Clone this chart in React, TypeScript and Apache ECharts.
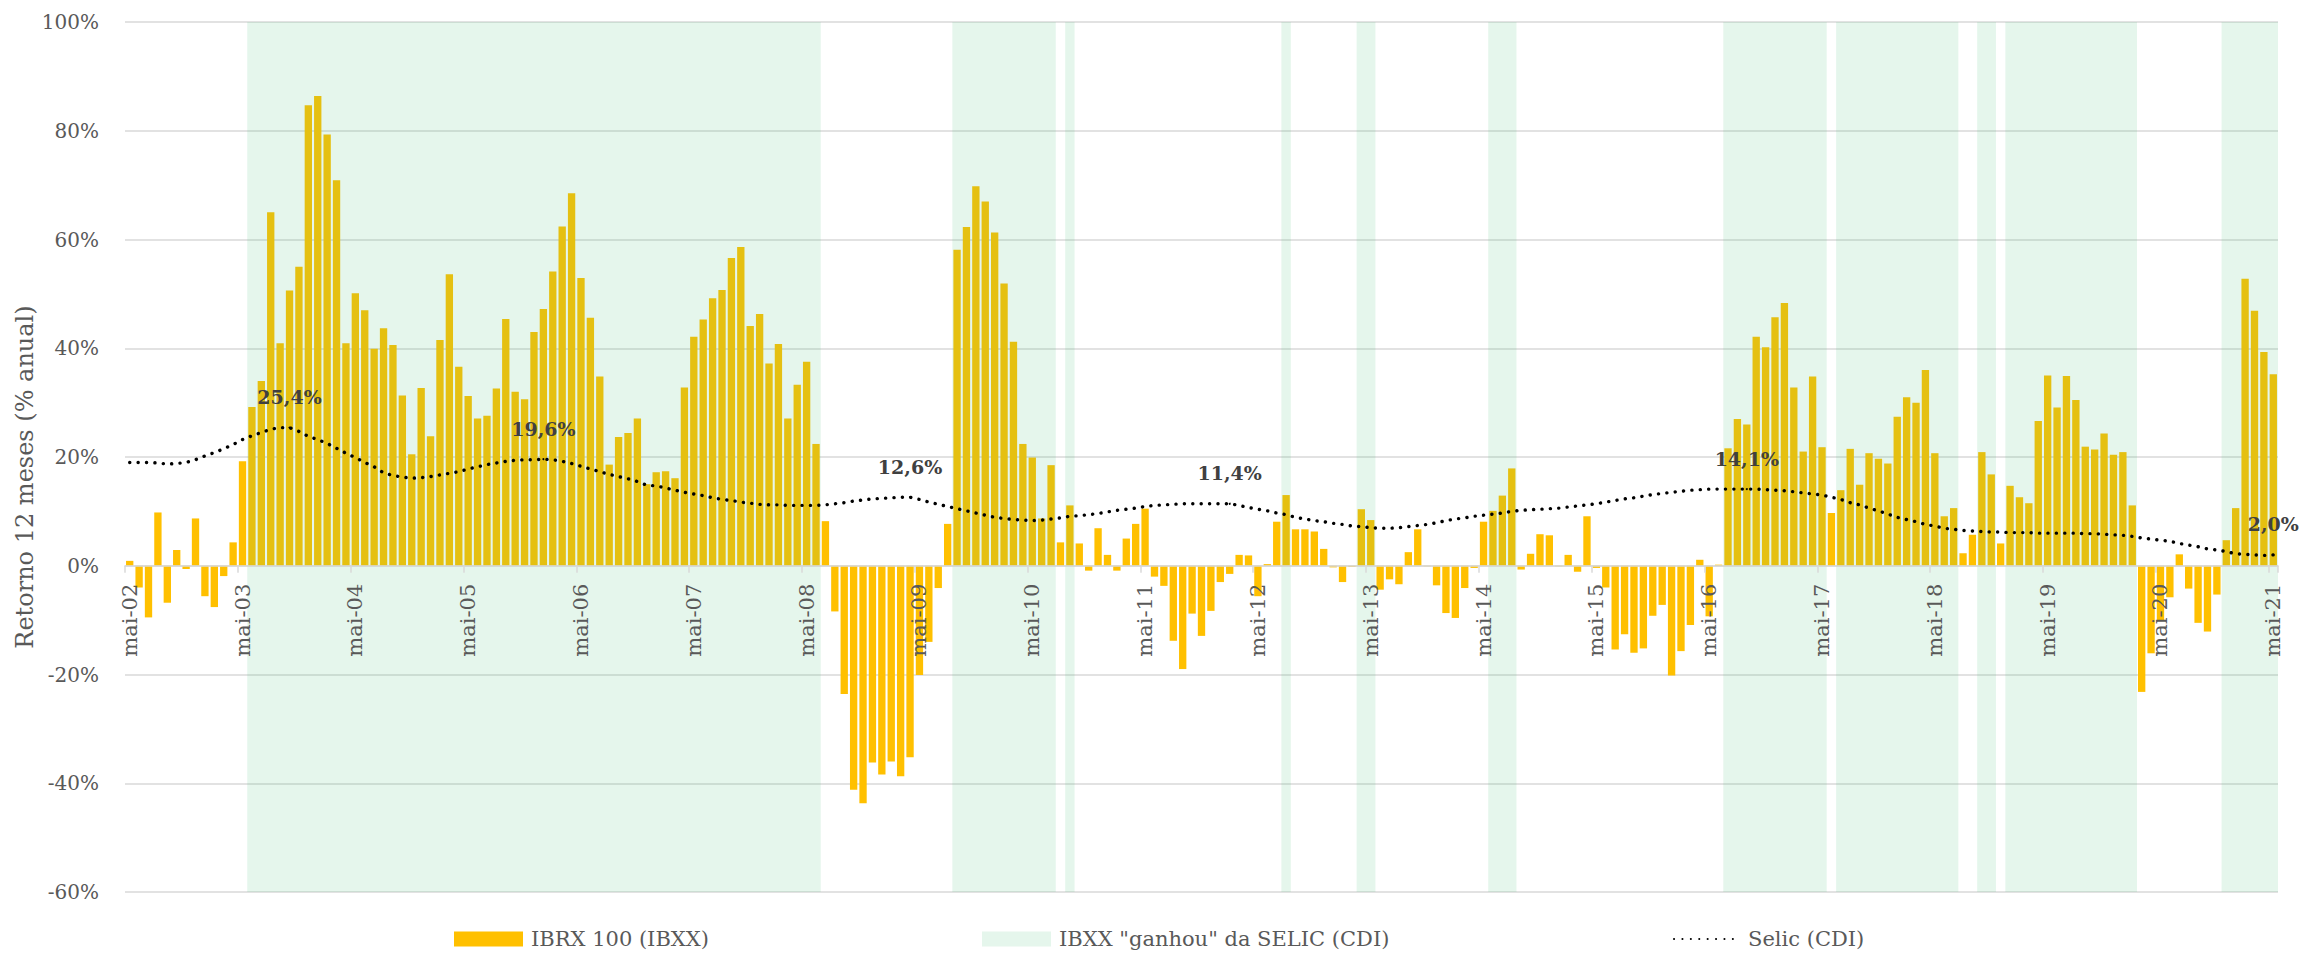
import React, { useEffect, useRef } from "react";
import * as echarts from "echarts";

const monthNames = ["jan", "fev", "mar", "abr", "mai", "jun", "jul", "ago", "set", "out", "nov", "dez"];
const startYear = 2002;
const startMonth = 4; // mai
const monthCount = 229;
const categories: string[] = [];
for (let k = 0; k < monthCount; k++) {
  const m = (startMonth + k) % 12;
  const y = startYear + Math.floor((startMonth + k) / 12);
  categories.push(`${monthNames[m]}-${String(y % 100).padStart(2, "0")}`);
}

const yTicks = [-60, -40, -20, 0, 20, 40, 60, 80, 100];

// IBRX 100 - retorno 12 meses (%)
const ibxx = [
  0.9, -4.0, -9.5, 9.8, -6.8, 2.9, -0.6, 8.7, -5.6, -7.6, -1.9, 4.3,
  19.2, 29.2, 34.0, 65.0, 40.9, 50.6, 55.0, 84.7, 86.4, 79.3, 70.9, 40.9,
  50.1, 47.0, 39.9, 43.7, 40.6, 31.3, 20.5, 32.7, 23.8, 41.5, 53.6, 36.6,
  31.2, 27.1, 27.6, 32.6, 45.4, 32.0, 30.6, 43.0, 47.2, 54.1, 62.4, 68.5,
  52.9, 45.6, 34.8, 18.6, 23.7, 24.4, 27.1, 15.0, 17.2, 17.4, 16.1, 32.8,
  42.1, 45.3, 49.2, 50.7, 56.6, 58.6, 44.1, 46.3, 37.2, 40.8, 27.1, 33.3,
  37.5, 22.4, 8.2, -8.4, -23.6, -41.2, -43.7, -36.2, -38.4, -36.0, -38.7, -35.2,
  -20.1, -14.0, -4.1, 7.7, 58.1, 62.3, 69.8, 67.0, 61.3, 51.9, 41.2, 22.4,
  19.9, 8.7, 18.5, 4.3, 11.1, 4.1, -0.9, 6.9, 2.0, -0.9, 5.0, 7.7,
  10.5, -2.0, -3.7, -13.8, -19.0, -8.8, -12.9, -8.3, -3.0, -1.5, 2.0, 1.9,
  -5.6, 0.3, 8.1, 13.0, 6.7, 6.7, 6.3, 3.1, -0.3, -3.0, -0.2, 10.4,
  8.4, -4.4, -2.5, -3.4, 2.5, 6.7, -0.1, -3.6, -8.7, -9.6, -4.1, -0.4,
  8.1, 10.1, 12.9, 17.9, -0.7, 2.2, 5.8, 5.6, -0.1, 2.0, -1.1, 9.1,
  -0.4, -4.0, -15.4, -12.6, -16.0, -15.2, -9.2, -7.2, -20.2, -15.7, -10.9, 1.1,
  -9.3, 0.2, 21.6, 27.0, 26.0, 42.1, 40.2, 45.7, 48.3, 32.8, 21.0, 34.8,
  21.8, 9.7, 13.9, 21.5, 14.9, 20.7, 19.7, 18.8, 27.4, 31.0, 30.0, 36.0,
  20.7, 9.1, 10.6, 2.3, 5.7, 20.9, 16.8, 4.1, 14.7, 12.6, 11.5, 26.6,
  35.0, 29.1, 34.9, 30.5, 21.9, 21.4, 24.3, 20.4, 20.9, 11.1, -23.2, -16.1,
  -10.0, -5.8, 2.1, -4.2, -10.5, -12.1, -5.3, 4.7, 10.6, 52.8, 46.9, 39.3, 35.2,
];

// Selic (CDI) - 12 meses (%)
const selic = [
  19.0, 19.0, 19.0, 18.9, 18.7, 18.8, 19.0, 19.5, 20.2, 20.8, 21.5, 22.3,
  23.2, 23.9, 24.5, 25.1, 25.4, 25.4, 24.7, 23.8, 23.2, 22.5, 21.6, 20.7,
  19.9, 19.0, 18.2, 17.1, 16.6, 16.3, 16.1, 16.2, 16.4, 16.7, 17.0, 17.3,
  17.8, 18.2, 18.6, 18.9, 19.2, 19.4, 19.5, 19.5, 19.6, 19.5, 19.2, 18.8,
  18.3, 17.8, 17.3, 16.8, 16.4, 16.0, 15.5, 14.8, 14.7, 14.3, 13.9, 13.5,
  13.2, 12.9, 12.5, 12.2, 12.0, 11.7, 11.5, 11.3, 11.2, 11.2, 11.1, 11.1,
  11.1, 11.1, 11.2, 11.4, 11.6, 11.9, 12.1, 12.3, 12.4, 12.5, 12.6, 12.6,
  12.2, 11.7, 11.3, 10.9, 10.5, 10.1, 9.7, 9.3, 8.9, 8.7, 8.5, 8.4,
  8.3, 8.4, 8.6, 8.8, 9.1, 9.2, 9.4, 9.6, 9.9, 10.2, 10.4, 10.6,
  10.9, 11.1, 11.2, 11.3, 11.4, 11.4, 11.4, 11.4, 11.4, 11.4, 11.1, 10.7,
  10.4, 10.1, 9.7, 9.4, 8.9, 8.6, 8.3, 8.1, 7.8, 7.6, 7.3, 7.2,
  7.0, 6.9, 6.9, 7.0, 7.2, 7.4, 7.6, 7.9, 8.3, 8.6, 8.8, 9.1,
  9.3, 9.5, 9.7, 10.0, 10.2, 10.3, 10.4, 10.5, 10.6, 10.8, 11.0, 11.2,
  11.4, 11.7, 12.0, 12.3, 12.5, 12.8, 13.1, 13.3, 13.5, 13.7, 13.9, 14.0,
  14.1, 14.1, 14.1, 14.1, 14.1, 14.1, 14.0, 13.9, 13.8, 13.6, 13.4, 13.2,
  13.0, 12.6, 12.2, 11.6, 11.2, 10.6, 10.1, 9.5, 8.9, 8.5, 8.1, 7.6,
  7.3, 6.9, 6.7, 6.5, 6.4, 6.3, 6.2, 6.2, 6.1, 6.1, 6.1, 6.0,
  6.0, 6.0, 6.0, 6.0, 5.9, 5.9, 5.8, 5.7, 5.6, 5.4, 5.1, 4.9,
  4.7, 4.5, 4.1, 3.8, 3.5, 3.1, 2.9, 2.6, 2.2, 2.1, 2.0, 1.9, 2.0,
];

// months whose Selic value is annotated
const selicLabelIdx = [17, 44, 83, 117, 172, 228];

const FONT = "DejaVu Serif";
const GRAY = "#595959";
const BAR = "#FFC000";
const BAND = "rgba(70,190,120,0.14)";
const GRID_LINE = "#D9D9D9";

function buildRuns(): number[][] {
  const runs: number[][] = [];
  let s = -1;
  for (let k = 0; k < ibxx.length; k++) {
    const won = ibxx[k] > selic[k];
    if (won && s < 0) s = k;
    if (!won && s >= 0) {
      runs.push([s, 0, k - 1]);
      s = -1;
    }
  }
  if (s >= 0) runs.push([s, 0, ibxx.length - 1]);
  return runs;
}

const fmt = (v: number) => v.toFixed(1).replace(".", ",") + "%";

export default function App() {
  const ref = useRef<HTMLDivElement>(null);
  useEffect(() => {
    document.body.style.margin = "0";
    const chart = echarts.init(ref.current!, null, { renderer: "svg" });
    const runs = buildRuns();
    const top = 22;
    const plotH = 870;
    const zeroY = top + (plotH * yTicks[yTicks.length - 1]) / (yTicks[yTicks.length - 1] - yTicks[0]);
    const legendText = { color: GRAY, fontFamily: FONT, fontSize: 21, lineHeight: 22, padding: [0, 0, 0, 3] };
    const legendBase = { top: 928, padding: 0, itemHeight: 15, selectedMode: false, textStyle: legendText };
    const everyYear = (i: number) => i % 12 === 0;
    chart.setOption({
      animation: false,
      textStyle: { fontFamily: FONT },
      grid: [
        { left: 125, right: 22, top, height: plotH },
        { left: 125, right: 22, top, height: zeroY - top },
      ],
      legend: [
        { ...legendBase, left: 454, itemWidth: 69, data: [{ name: "IBRX 100 (IBXX)", icon: "rect" }] },
        { ...legendBase, left: 982, itemWidth: 69, data: [{ name: 'IBXX "ganhou" da SELIC (CDI)', icon: "rect" }] },
        {
          ...legendBase,
          left: 1673,
          itemWidth: 66,
          itemStyle: { color: "transparent", borderWidth: 0, opacity: 0 },
          data: [{ name: "Selic (CDI)" }],
        },
      ],
      graphic: [
        {
          type: "text",
          x: 25,
          y: 477,
          rotation: Math.PI / 2,
          style: {
            text: "Retorno 12 meses (% anual)",
            fill: GRAY,
            fontFamily: FONT,
            fontSize: 24,
            textAlign: "center",
            textVerticalAlign: "middle",
          },
        },
      ],
      xAxis: [
        {
          type: "category",
          gridIndex: 0,
          data: categories,
          boundaryGap: true,
          axisLine: { show: false },
          axisTick: { show: false },
          axisLabel: { show: false },
          splitLine: { show: false },
        },
        {
          type: "category",
          gridIndex: 1,
          data: categories,
          boundaryGap: true,
          position: "bottom",
          z: 10,
          axisLine: { onZero: false, lineStyle: { color: GRID_LINE, width: 1.5 } },
          axisTick: {
            show: true,
            interval: everyYear,
            length: 7,
            lineStyle: { color: GRID_LINE, width: 1.5 },
          },
          axisLabel: {
            interval: everyYear,
            rotate: 90,
            margin: 18,
            color: GRAY,
            fontFamily: FONT,
            fontSize: 21,
          },
          splitLine: { show: false },
        },
      ],
      yAxis: [
        {
          type: "value",
          gridIndex: 0,
          min: yTicks[0],
          max: yTicks[yTicks.length - 1],
          interval: 20,
          axisLine: { show: false },
          axisTick: { show: false },
          axisLabel: {
            margin: 26,
            color: GRAY,
            fontFamily: FONT,
            fontSize: 20,
            formatter: (v: number) => `${v}%`,
          },
          splitLine: { lineStyle: { color: GRID_LINE, width: 1.5 } },
        },
        {
          type: "value",
          gridIndex: 1,
          min: 0,
          max: 1,
          show: false,
          splitLine: { show: false },
        },
      ],
      series: [
        {
          name: "IBRX 100 (IBXX)",
          type: "bar",
          data: ibxx,
          barCategoryGap: "22%",
          itemStyle: { color: BAR },
          z: 2,
        },
        {
          name: 'IBXX "ganhou" da SELIC (CDI)',
          type: "custom",
          data: runs,
          encode: { x: 0, y: 1 },
          itemStyle: { color: BAND },
          z: 3,
          silent: true,
          renderItem: (params: any, api: any) => {
            const s = api.value(0);
            const e = api.value(2);
            const bw = api.size([1, 0])[0];
            const p0 = api.coord([s, 0]);
            const p1 = api.coord([e, 0]);
            const cs = params.coordSys;
            return {
              type: "rect",
              shape: { x: p0[0] - bw / 2, y: cs.y, width: p1[0] - p0[0] + bw, height: cs.height },
              style: { fill: api.visual("color") },
            };
          },
        },
        {
          name: "Selic (CDI)",
          type: "line",
          data: selic.map((v, k) =>
            selicLabelIdx.includes(k)
              ? { value: v, symbol: "circle", symbolSize: 2, label: { show: true } }
              : v
          ),
          symbol: "none",
          smooth: false,
          z: 5,
          lineStyle: { color: "#000", width: 3.4, type: [0.1, 8.3], cap: "round" },
          itemStyle: { color: "#000" },
          label: {
            show: false,
            position: "top",
            distance: 20,
            formatter: (p: any) => fmt(p.value),
            color: "#404040",
            fontWeight: "bold",
            fontFamily: FONT,
            fontSize: 19,
          },
        },
      ],
    });
    return () => chart.dispose();
  }, []);
  return <div ref={ref} style={{ width: 2300, height: 953 }} />;
}
